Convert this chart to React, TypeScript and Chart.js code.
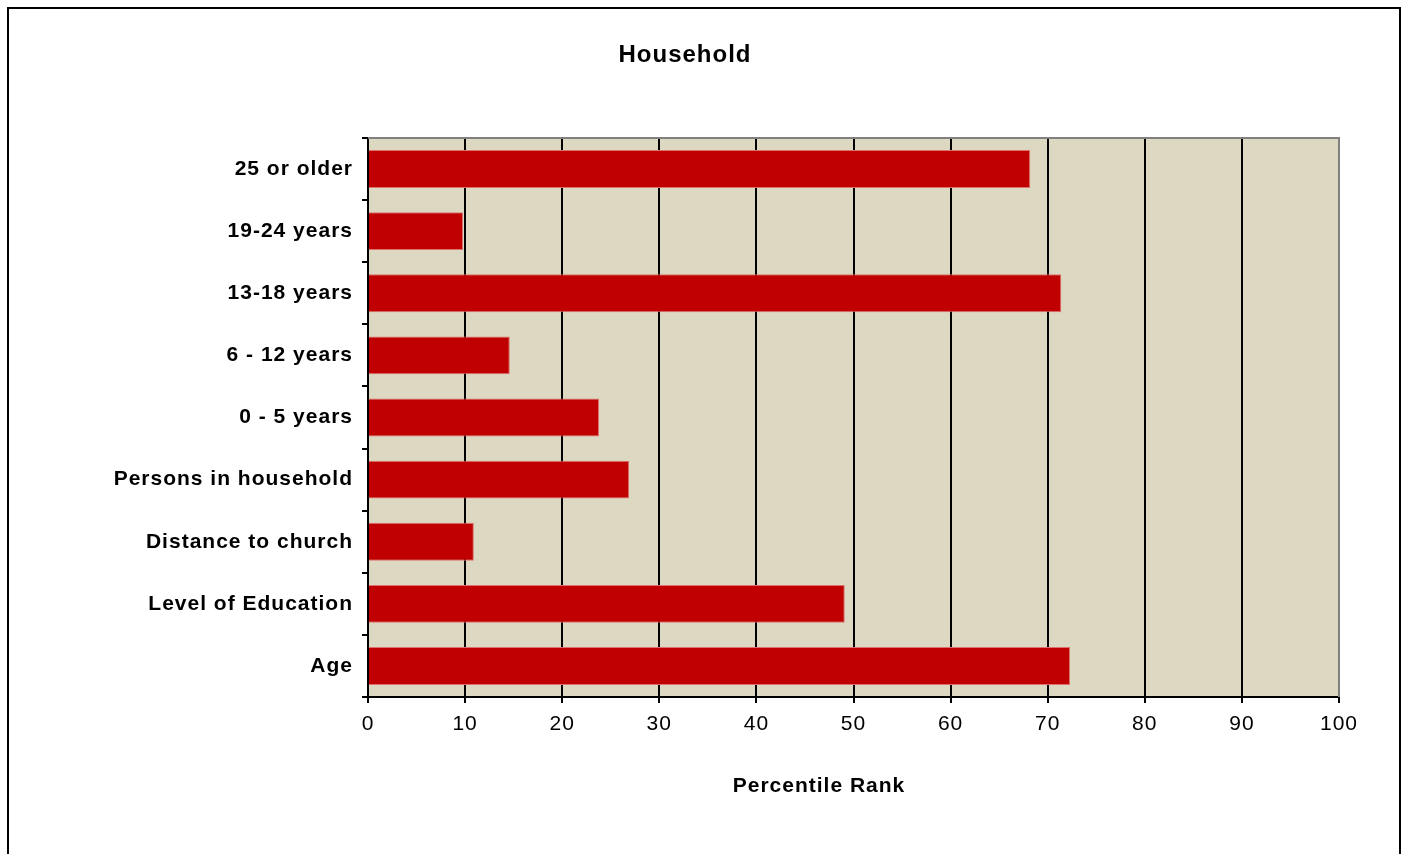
import React, { useEffect, useRef } from "react";
import { Chart, registerables } from "chart.js";

Chart.register(...registerables);

const categories = [
  "25 or older",
  "19-24 years",
  "13-18 years",
  "6 - 12 years",
  "0 - 5 years",
  "Persons in household",
  "Distance to church",
  "Level of Education",
  "Age",
];
const percentileValues = [68.2, 9.8, 71.4, 14.6, 23.8, 26.9, 10.9, 49.1, 72.3];
const xTickValues = [0, 10, 20, 30, 40, 50, 60, 70, 80, 90, 100];
const chartTitle = "Household";
const xAxisTitle = "Percentile Rank";

const FONT = "'Liberation Sans', Arial, sans-serif";

const decorPlugin = {
  id: "decor",
  beforeDraw(chart: any) {
    const { ctx, chartArea } = chart;
    (ctx as any).letterSpacing = "1px";
    ctx.save();
    ctx.fillStyle = "#ffffff";
    ctx.fillRect(0, 0, chart.width, chart.height);
    ctx.fillStyle = "#DDD8C2";
    ctx.fillRect(
      chartArea.left,
      chartArea.top,
      chartArea.right - chartArea.left,
      chartArea.bottom - chartArea.top
    );
    ctx.restore();
  },
  afterDraw(chart: any) {
    const { ctx, chartArea } = chart;
    ctx.save();
    // gray top & right plot border
    ctx.strokeStyle = "#808080";
    ctx.lineWidth = 2;
    ctx.beginPath();
    ctx.moveTo(chartArea.left, chartArea.top);
    ctx.lineTo(chartArea.right, chartArea.top);
    ctx.lineTo(chartArea.right, chartArea.bottom);
    ctx.stroke();
    // outer frame
    ctx.strokeStyle = "#000000";
    ctx.lineWidth = 2;
    ctx.strokeRect(8, 8, 1392, 900);
    // title
    ctx.fillStyle = "#000000";
    ctx.textAlign = "center";
    ctx.textBaseline = "middle";
    (ctx as any).letterSpacing = "1px";
    ctx.font = `bold 24px ${FONT}`;
    ctx.fillText(chartTitle, 685, 55);
    // axis title
    ctx.font = `bold 21px ${FONT}`;
    ctx.fillText(xAxisTitle, 819, 786);
    ctx.restore();
  },
};

export default function App() {
  const canvasRef = useRef<HTMLCanvasElement | null>(null);

  useEffect(() => {
    if (!canvasRef.current) return;
    const chart = new Chart(canvasRef.current, {
      type: "bar",
      data: {
        labels: categories,
        datasets: [
          {
            data: percentileValues,
            backgroundColor: "#C00000",
            borderColor: "#E07070",
            borderWidth: 1,
            barPercentage: 0.61,
            categoryPercentage: 1,
          },
        ],
      },
      options: {
        indexAxis: "y",
        responsive: false,
        animation: false,
        devicePixelRatio: 1,
        layout: { padding: { left: 0, right: 70, top: 138, bottom: 0 } },
        plugins: {
          legend: { display: false },
          title: { display: false },
          tooltip: { enabled: false },
        },
        scales: {
          x: {
            type: "linear",
            min: 0,
            max: 100,
            afterBuildTicks(scale: any) {
              scale.ticks = xTickValues.map((v) => ({ value: v }));
            },
            afterFit(scale: any) {
              scale.height = 854 - 697;
            },
            grid: {
              color: (ctx: any) =>
                ctx.tick && ctx.tick.value === 100 ? "#808080" : "#000000",
              lineWidth: 2,
              tickLength: 6,
              drawTicks: true,
              tickColor: "#000000",
            },
            border: { color: "#000000", width: 2 },
            ticks: {
              color: "#000000",
              font: { family: FONT, size: 21 },
              padding: 9,
              maxRotation: 0,
              autoSkip: false,
            },
          },
          y: {
            z: 1,
            afterFit(scale: any) {
              scale.width = 368;
            },
            grid: {
              drawOnChartArea: false,
              drawTicks: true,
              tickLength: 6,
              color: "#000000",
              lineWidth: 2,
              offset: true,
            },
            border: { color: "#000000", width: 2 },
            ticks: {
              color: "#000000",
              font: { family: FONT, size: 21, weight: "bold" },
              padding: 9,
              autoSkip: false,
            },
          },
        },
      },
      plugins: [decorPlugin],
    });
    return () => chart.destroy();
  }, []);

  return (
    <div style={{ position: "absolute", left: 0, top: 0, width: 1409, height: 854 }}>
      <canvas
        ref={canvasRef}
        width={1409}
        height={854}
        style={{ display: "block", width: 1409, height: 854 }}
      />
    </div>
  );
}
